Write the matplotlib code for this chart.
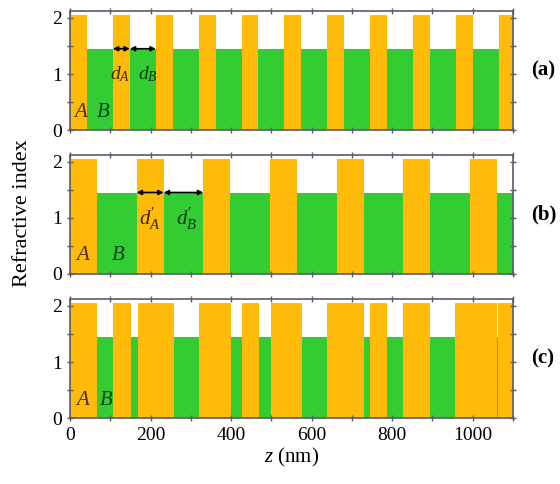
import matplotlib
matplotlib.use("Agg")
import matplotlib.pyplot as plt
import numpy as np
from matplotlib.ticker import MultipleLocator

plt.rcParams['font.family'] = ['Liberation Serif', 'DejaVu Serif']
plt.rcParams['mathtext.fontset'] = 'custom'
plt.rcParams['mathtext.rm'] = 'Liberation Serif'
plt.rcParams['mathtext.it'] = 'Liberation Serif:italic'

# refractive indices
n_A = 2.05
n_B = 1.45

# layer sequences (material, thickness in nm)
mat_a = ['A', 'B'] * 10 + ['A']
thk_a = [42, 64.5] * 10 + [42]

mat_b = ['A', 'B'] * 7
thk_b = [67, 98.5] * 7

mat_c = ['A', 'B', 'A', 'B', 'A', 'A', 'B', 'A', 'B', 'A', 'B', 'A', 'B',
         'A', 'A', 'B', 'A', 'B', 'A', 'B', 'A', 'A', 'B', 'A']
thk_c = [68, 39, 44, 19, 45, 44, 61, 79, 27, 43, 30, 76, 64,
         46, 45, 15, 43, 40, 66, 62, 91, 14, 3, 46]

panel_labels = ['(a)', '(b)', '(c)']
xticks = [0, 200, 400, 600, 800, 1000]

c_A = '#FFBA0A'
c_B = '#33CC33'
spine_c = '#5a5a6e'

fig = plt.figure(figsize=(5.6, 4.84), dpi=100)
rects = [[0.125, 0.731, 0.791, 0.246],
         [0.125, 0.434, 0.791, 0.246],
         [0.125, 0.136, 0.791, 0.246]]

axes = []
for r, mats, thks, lab in zip(rects, [mat_a, mat_b, mat_c], [thk_a, thk_b, thk_c], panel_labels):
    ax = fig.add_axes(r)
    thks = np.array(thks, dtype=float)
    lefts = np.concatenate([[0], np.cumsum(thks)[:-1]])
    heights = [n_A if m == 'A' else n_B for m in mats]
    cols = [c_A if m == 'A' else c_B for m in mats]
    ax.bar(lefts, heights, width=thks, align='edge', color=cols, linewidth=0)
    ax.set_xlim(0, 1100)
    ax.set_ylim(0, 2.12)
    ax.set_yticks([0, 1, 2])
    ax.yaxis.set_minor_locator(MultipleLocator(0.5))
    ax.set_xticks(xticks)
    ax.xaxis.set_minor_locator(MultipleLocator(100))
    ax.tick_params(which='both', direction='inout', top=True, right=True,
                   length=5, width=1, color=spine_c, labelsize=14)
    for s in ax.spines.values():
        s.set_color(spine_c)
        s.set_linewidth(1.2)
    ax.text(1.04, 0.5, lab, transform=ax.transAxes, fontsize=15,
            fontweight='bold', ha='left', va='center', clip_on=False)
    axes.append(ax)

for ax in axes[:2]:
    ax.tick_params(labelbottom=False)

# A / B labels
txt_A = '#4a3000'
txt_B = '#08401a'
axes[0].text(25, 0.32, 'A', style='italic', fontsize=15, color=txt_A, ha='center', va='center')
axes[0].text(82, 0.32, 'B', style='italic', fontsize=15, color=txt_B, ha='center', va='center')
axes[1].text(30, 0.32, 'A', style='italic', fontsize=15, color=txt_A, ha='center', va='center')
axes[1].text(119, 0.32, 'B', style='italic', fontsize=15, color=txt_B, ha='center', va='center')
axes[2].text(32, 0.32, 'A', style='italic', fontsize=15, color=txt_A, ha='center', va='center')
axes[2].text(91, 0.32, 'B', style='italic', fontsize=15, color=txt_B, ha='center', va='center')

# arrows for thicknesses
def dim_arrow(ax, x0, x1, y):
    ax.annotate('', xy=(x1, y), xytext=(x0, y),
                arrowprops=dict(arrowstyle='<|-|>', lw=1.2, color='black',
                                mutation_scale=7, shrinkA=0, shrinkB=0))

a0 = thk_a[0] + thk_a[1]
dim_arrow(axes[0], a0, a0 + thk_a[0], n_B)
dim_arrow(axes[0], a0 + thk_a[0], a0 + thk_a[0] + thk_a[1], n_B)
axes[0].text(a0 + thk_a[0] / 2 - 2, 1.0, r'$d_A$', fontsize=14, color='#3a2a00', ha='center', va='center')
axes[0].text(a0 + thk_a[0] + 46, 1.0, r'$d_B$', fontsize=14, color='#0a3a12', ha='center', va='center')

b0 = thk_b[0] + thk_b[1]
dim_arrow(axes[1], b0, b0 + thk_b[0], n_B)
dim_arrow(axes[1], b0 + thk_b[0], b0 + thk_b[0] + thk_b[1], n_B)
axes[1].text(b0 + thk_b[0] / 2, 0.98, r"$d^{\prime}_A$", fontsize=15, color='#3a2a00', ha='center', va='center')
axes[1].text(b0 + thk_b[0] + 58, 0.98, r"$d^{\prime}_B$", fontsize=15, color='#0a3a12', ha='center', va='center')

axes[2].set_xlabel(r'$z$ (nm)', fontsize=15, labelpad=2)
fig.text(0.04, 0.56, 'Refractive index', rotation=90, fontsize=16,
         ha='center', va='center')

fig.savefig('out.png', dpi=100)
